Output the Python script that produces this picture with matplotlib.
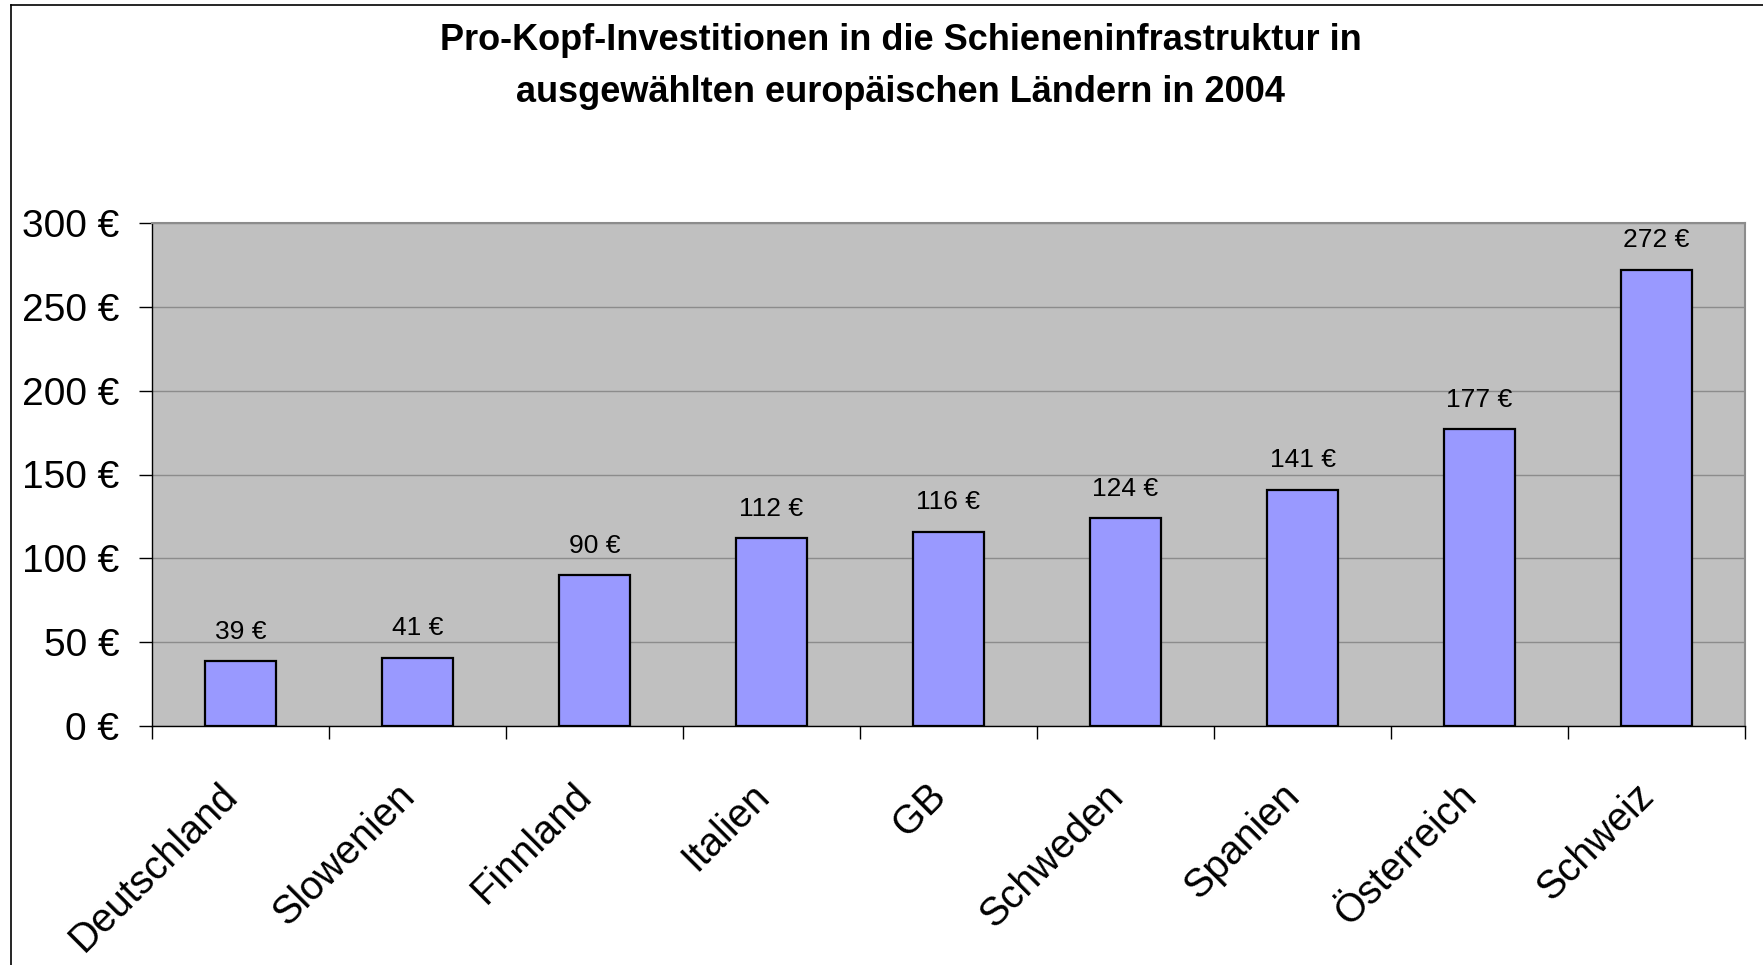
import matplotlib
matplotlib.use("Agg")
import matplotlib.pyplot as plt
from matplotlib.lines import Line2D
from matplotlib.transforms import ScaledTranslation
import numpy as np

countries = ["Deutschland", "Slowenien", "Finnland", "Italien", "GB",
             "Schweden", "Spanien", "Österreich", "Schweiz"]
values = [39, 41, 90, 112, 116, 124, 141, 177, 272]
yticks = [0, 50, 100, 150, 200, 250, 300]
title_lines = ["Pro-Kopf-Investitionen in die Schieneninfrastruktur in",
               "ausgewählten europäischen Ländern in 2004"]

plt.rcParams['font.family'] = ['Liberation Sans', 'DejaVu Sans']

W, H = 1763, 965
fig = plt.figure(figsize=(W / 100, H / 100), dpi=100)
fig.patch.set_facecolor("white")

ax = fig.add_axes([152 / W, 1 - 726.4 / H, (1745 - 152) / W, (726.4 - 222.6) / H])
ax.set_facecolor("#C0C0C0")

x = np.arange(len(countries))
ax.bar(x, values, width=0.4, color="#9999FF", edgecolor="black", linewidth=1.6, zorder=3)

ax.set_xlim(-0.5, len(countries) - 0.5)
ax.set_ylim(0, 300)
ax.set_yticks(yticks)
ax.set_yticklabels([f"{v} €" for v in yticks], fontsize=28)
ax.yaxis.grid(True, color="#8C8C8C", linewidth=1.0, zorder=0)
ax.set_axisbelow(True)
ax.tick_params(axis="y", direction="out", length=9.5, width=1.0, color="black", pad=14)

# category boundary ticks
ax.set_xticks(np.arange(-0.5, len(countries) + 0.5, 1.0), minor=False)
ax.set_xticklabels([])
ax.tick_params(axis="x", which="major", direction="out", length=9.5, width=1.0, color="black")
ax.set_xticks(x, minor=True)
ax.set_xticklabels(countries, minor=True, fontsize=28.5, rotation=45, ha="right",
                   va="top", rotation_mode="anchor")
ax.tick_params(axis="x", which="minor", length=0, pad=36)
shift = ScaledTranslation(-22 / 100, 0, fig.dpi_scale_trans)
for lbl in ax.get_xticklabels(minor=True):
    lbl.set_transform(lbl.get_transform() + shift)

for side in ["top", "right"]:
    ax.spines[side].set_color("#8C8C8C")
    ax.spines[side].set_linewidth(1.5)
for side in ["left", "bottom"]:
    ax.spines[side].set_color("black")
    ax.spines[side].set_linewidth(1.0)

for xi, v in zip(x, values):
    ax.annotate(f"{v} €", (xi, v), xytext=(0, 21), textcoords="offset points",
                ha="center", va="center", fontsize=19, color="black", zorder=4)

fig.text(901 / W, 1 - 41 / H, title_lines[0], ha="center", va="center",
         fontsize=26, fontweight="bold")
fig.text(901 / W, 1 - 92 / H, title_lines[1], ha="center", va="center",
         fontsize=26, fontweight="bold")

# outer chart frame (partially visible)
fig.add_artist(Line2D([11 / W, 1.0], [1 - 5 / H, 1 - 5 / H], transform=fig.transFigure,
                      color="black", linewidth=1.2))
fig.add_artist(Line2D([11 / W, 11 / W], [0.0, 1 - 5 / H], transform=fig.transFigure,
                      color="black", linewidth=1.2))

fig.savefig("out.png", dpi=100, facecolor="white")
